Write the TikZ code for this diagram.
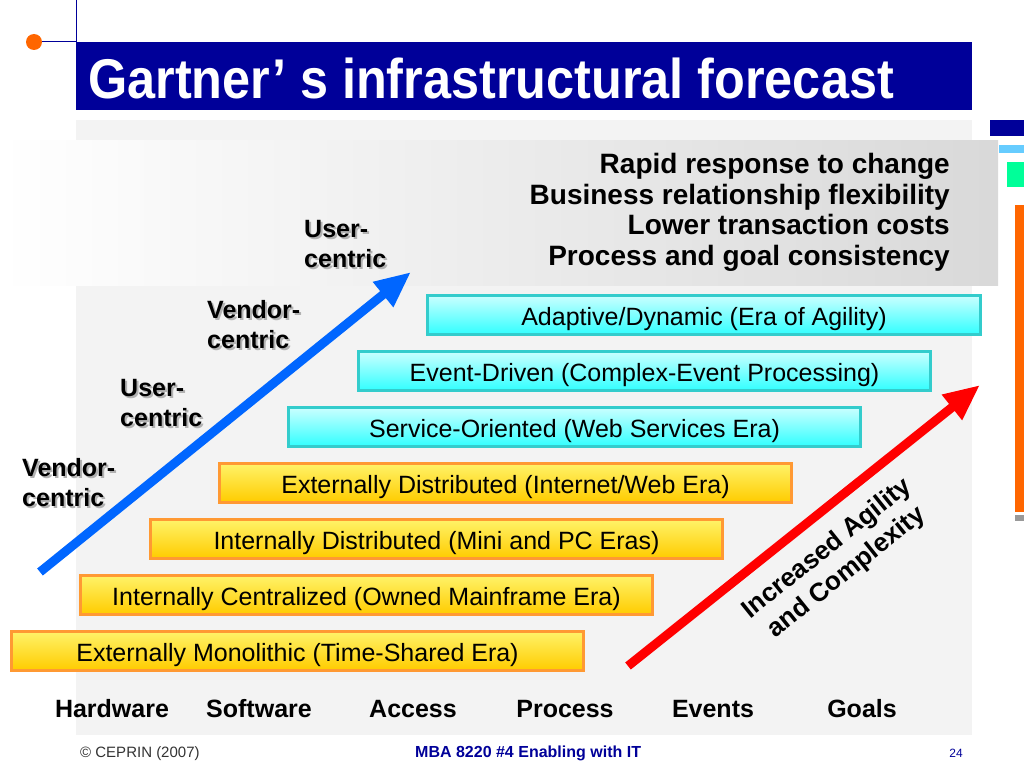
\documentclass[tikz,border=0pt]{standalone}
\usepackage{fontspec}
\setmainfont{Liberation Sans}
\usetikzlibrary{arrows.meta}
\definecolor{navy}{HTML}{000099}
\definecolor{bgray}{HTML}{F3F3F3}
\definecolor{orbord}{HTML}{FF9933}
\definecolor{ytop}{HTML}{FFF36A}
\definecolor{ybot}{HTML}{FFCC00}
\definecolor{cbord}{HTML}{33CCCC}
\definecolor{ctop}{HTML}{CCFFFF}
\definecolor{cbot}{HTML}{33FFFF}
\definecolor{barrow}{HTML}{0066FF}
\definecolor{dotor}{HTML}{FF6600}
\definecolor{ltblue}{HTML}{66CCFF}
\definecolor{mint}{HTML}{00FF99}
\newcommand\shlab[4]{%
  \node[lab, text=black!30] (#1s) at (#2+2,#3+2) {#4};
  \node[lab] (#1) at (#2,#3) {#4};}
\begin{document}
\begin{tikzpicture}[x=1pt,y=-1pt,
  ybox/.style={draw=orbord, line width=3pt, top color=ytop, bottom color=ybot,
    minimum height=39pt, inner sep=0pt, text height=21pt, text depth=0pt,
    font=\fontsize{25}{30}\selectfont},
  cbox/.style={draw=cbord, line width=3pt, top color=ctop, bottom color=cbot,
    minimum height=39pt, inner sep=0pt, text height=21pt, text depth=0pt,
    font=\fontsize{25}{30}\selectfont},
  lab/.style={anchor=north west, align=left, inner sep=0pt,
    font=\bfseries\fontsize{25}{30}\selectfont},
  axl/.style={anchor=base, inner sep=0pt, font=\bfseries\fontsize{25}{30}\selectfont},
  bigarrow/.style={line width=9pt, -{Triangle[length=36pt,width=30pt]}},
]
\useasboundingbox (0,0) rectangle (1024,768);
\fill[white] (0,0) rectangle (1024,768);
% background
\fill[bgray] (76,120) rectangle (972,735);
\shade[left color=white, right color=black!15] (0,140) rectangle (998,285);
% right decorations
\fill[navy] (990,120) rectangle (1024,136);
\fill[ltblue] (999,145) rectangle (1024,153);
\fill[mint] (1007,162) rectangle (1024,187);
\fill[dotor] (1015,205) rectangle (1024,512);
\fill[black!40] (1015,515) rectangle (1024,521);
% title
\draw[navy, line width=1pt] (76,0) -- (76,42);
\fill[navy] (76,42) rectangle (972,110);
\node[circle, fill=dotor, minimum size=16pt, inner sep=0pt] (dot) at (34,42) {};
\draw[navy, line width=1pt] (dot) -- (76,42);
\node[anchor=base west, inner sep=0pt, text=white,
  font=\bfseries\fontsize{56}{64}\selectfont] (title) at (88,98) {\scalebox{0.9}[1]{Gartner’ s infrastructural forecast}};
% top right text
\node[anchor=north east, align=right, inner sep=0pt,
  font=\bfseries\fontsize{28}{30.7}\selectfont] (goals) at (950,153)
  {Rapid response to change\\Business relationship flexibility\\Lower transaction costs\\Process and goal consistency};
% boxes
\node[ybox, minimum width=572pt] (b1) at (297.5,650.5) {Externally Monolithic (Time-Shared Era)};
\node[ybox, minimum width=572pt] (b2) at (366.5,594.5) {Internally Centralized (Owned Mainframe Era)};
\node[ybox, minimum width=572pt] (b3) at (436.5,538.5) {Internally Distributed (Mini and PC Eras)};
\node[ybox, minimum width=572pt] (b4) at (505.5,482.5) {Externally Distributed (Internet/Web Era)};
\node[cbox, minimum width=572pt] (b5) at (574.5,426.5) {Service-Oriented (Web Services Era)};
\node[cbox, minimum width=572pt] (b6) at (644.5,370.5) {Event-Driven (Complex-Event Processing)};
\node[cbox, minimum width=553pt] (b7) at (704,314.5) {Adaptive/Dynamic (Era of Agility)};
% arrows
\coordinate (ba0) at (40,572);
\coordinate (ba1) at (411,272);
\draw[barrow, bigarrow] (ba0) -- (ba1);
\coordinate (ra0) at (628,666);
\coordinate (ra1) at (980,385);
\draw[red, bigarrow] (ra0) -- (ra1);
% labels
\shlab{l1}{22}{458}{Vendor-\\centric}
\shlab{l2}{120}{379}{User-\\centric}
\shlab{l3}{207}{300}{Vendor-\\centric}
\shlab{l4}{304}{220}{User-\\centric}
\node[align=center, rotate=38.7, inner sep=0pt,
  font=\bfseries\fontsize{26}{31}\selectfont] (agil) at (837,561) {Increased Agility\\and Complexity};
% axis labels
\node[axl] (h1) at (112,717) {Hardware};
\node[axl] (h2) at (259,717) {Software};
\node[axl] (h3) at (413,717) {Access};
\node[axl] (h4) at (565,717) {Process};
\node[axl] (h5) at (713,717) {Events};
\node[axl] (h6) at (862,717) {Goals};
% footer
\node[anchor=base west, inner sep=0pt, text=black!80, font=\fontsize{15}{18}\selectfont] (copy) at (80,757) {© CEPRIN (2007)};
\node[anchor=base west, inner sep=0pt, text=navy, font=\bfseries\fontsize{16}{18}\selectfont] (course) at (415,757) {MBA 8220 \#4 Enabling with IT};
\node[anchor=base, inner sep=0pt, text=navy, font=\fontsize{12}{14}\selectfont] (page) at (956,757) {24};
\end{tikzpicture}
\end{document}
